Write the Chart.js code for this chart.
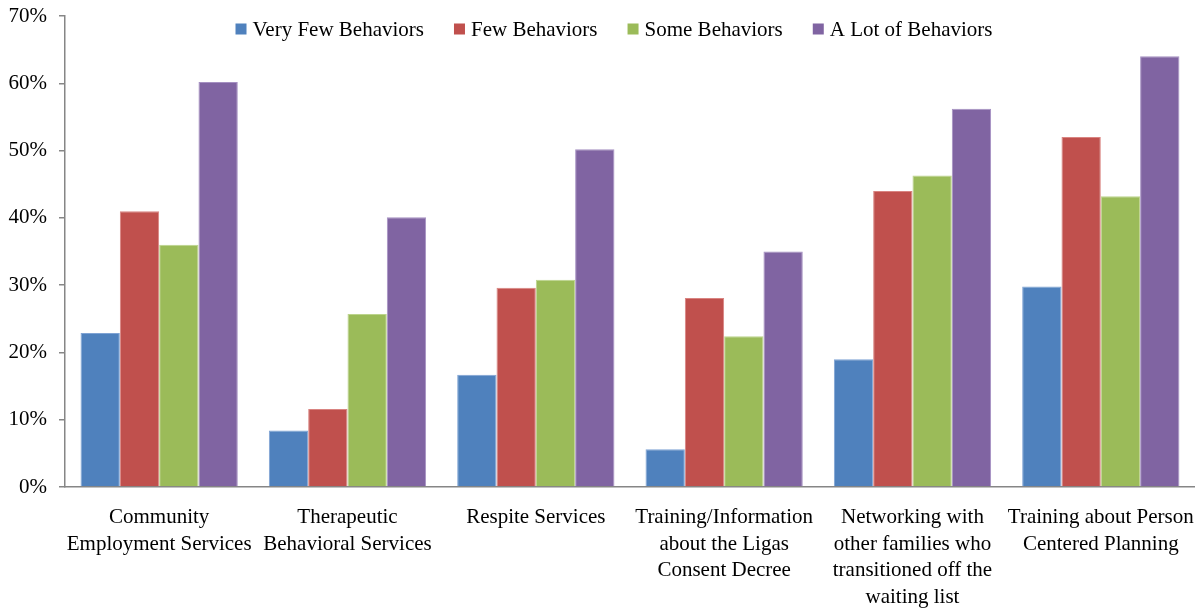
<!DOCTYPE html>
<html>
<head>
<meta charset="utf-8">
<script src="https://cdn.jsdelivr.net/npm/chart.js@4.4.1/dist/chart.umd.min.js"></script>
<style>
html,body{margin:0;padding:0;background:#fff;}
#wrap{width:1203px;height:611px;position:relative;}
</style>
</head>
<body>
<div id="wrap"><canvas id="c" width="1203" height="611"></canvas></div>
<script>
const categories = [
  ["Community","Employment Services"],
  ["Therapeutic","Behavioral Services"],
  ["Respite Services"],
  ["Training/Information","about the Ligas","Consent Decree"],
  ["Networking with","other families who","transitioned off the","waiting list"],
  ["Training about Person","Centered Planning"]
];
const seriesNames = ["Very Few Behaviors","Few Behaviors","Some Behaviors","A Lot of Behaviors"];
const veryFew = [22.9, 8.4, 16.7, 5.6, 19.0, 29.8];
const few     = [41.0, 11.6, 29.6, 28.1, 44.0, 52.0];
const some    = [36.0, 25.7, 30.8, 22.4, 46.3, 43.2];
const aLot    = [60.2, 40.1, 50.2, 35.0, 56.2, 64.0];
const yTicks  = [0,10,20,30,40,50,60,70];
const colors  = ["#4F81BD","#C0504D","#9BBB59","#8064A2"];
const borders = ["#7FA3D4","#D98481","#BCD48C","#A590C2"];

const FONT = "'Liberation Serif','Times New Roman',serif";

const legendPlugin = {
  id: 'topLegend',
  afterDraw(chart) {
    const ctx = chart.ctx;
    ctx.save();
    ctx.font = "21px " + FONT;
    ctx.textBaseline = 'middle';
    const box = 11, gapText = 6, gapItem = 30;
    const items = chart.data.datasets.map((d) => ({label: d.label, color: d.backgroundColor, w: box + gapText + ctx.measureText(d.label).width}));
    const total = items.reduce((s, it) => s + it.w, 0) + gapItem * (items.length - 1);
    let x = 614 - total / 2;
    const y = 29;
    items.forEach(it => {
      ctx.fillStyle = it.color;
      ctx.fillRect(x, y - box / 2, box, box);
      ctx.fillStyle = '#000';
      ctx.fillText(it.label, x + box + gapText, y + 1);
      x += it.w + gapItem;
    });
    ctx.restore();
  }
};

const data = {
  labels: categories,
  datasets: [veryFew, few, some, aLot].map((vals, i) => ({
    label: seriesNames[i],
    data: vals,
    backgroundColor: colors[i],
    borderColor: borders[i],
    borderWidth: 1,
    categoryPercentage: 0.835,
    barPercentage: 1.0
  }))
};

new Chart(document.getElementById('c'), {
  type: 'bar',
  data,
  plugins: [legendPlugin],
  options: {
    responsive: false,
    animation: false,
    devicePixelRatio: 1,
    layout: { padding: { top: 16, right: 3, left: 0, bottom: 0 } },
    plugins: { legend: { display: false }, tooltip: { enabled: false } },
    scales: {
      x: {
        grid: { display: false },
        border: { display: true, color: '#868686', width: 1.5 },
        ticks: {
          color: '#000',
          maxRotation: 0, minRotation: 0, autoSkip: false,
          padding: 9,
          font: { family: FONT, size: 21, lineHeight: 1.27 }
        },
        afterFit(scale) { scale.height = 124; }
      },
      y: {
        min: 0, max: 70,
        afterBuildTicks(scale) { scale.ticks = yTicks.map(v => ({ value: v })); },
        grid: { display: true, drawOnChartArea: false, drawTicks: true, tickLength: 6, color: '#868686', lineWidth: 1.5 },
        border: { display: true, color: '#868686', width: 1.5 },
        ticks: {
          color: '#000',
          padding: 12,
          font: { family: FONT, size: 21 },
          callback: (v) => v + '%'
        },
        afterFit(scale) { scale.width = 65; scale.paddingTop = 16; scale.paddingBottom = 0; }
      }
    }
  }
});
</script>
</body>
</html>
